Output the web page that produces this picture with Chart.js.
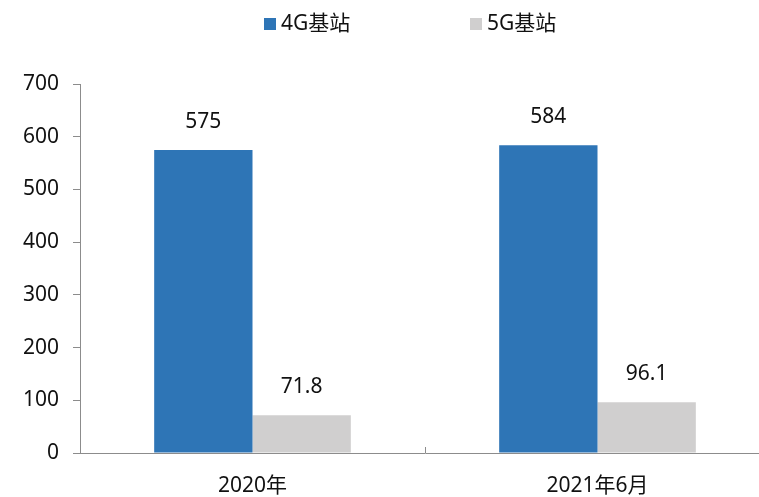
<!DOCTYPE html>
<html lang="zh">
<head>
<meta charset="UTF-8" />
<title>4G/5G基站</title>
<script src="https://cdn.jsdelivr.net/npm/chart.js"></script>
<style>
  html, body { margin: 0; padding: 0; background: #fff; overflow: hidden; }
  .wrap { width: 770px; height: 497px; }
</style>
</head>
<body>
<div class="wrap"><canvas id="baseChart"></canvas></div>
<script>
  // data
  const categories = ['2020年', '2021年6月'];
  const seriesNames = ['4G基站', '5G基站'];
  const values4G = [575, 584];
  const values5G = [71.8, 96.1];
  const yTicks = [0, 100, 200, 300, 400, 500, 600, 700];
  const seriesColors = ['#2e75b6', '#d0cfcf'];

  const FONT = '"Noto Sans", "Noto Sans CJK SC", sans-serif';
  const AXIS = '#8c8c8c';

  // value labels above each bar
  const valueLabels = {
    id: 'valueLabels',
    afterDatasetsDraw(chart) {
      const ctx = chart.ctx;
      ctx.save();
      ctx.font = '21px ' + FONT;
      ctx.fillStyle = '#111';
      ctx.textAlign = 'center';
      ctx.textBaseline = 'alphabetic';
      chart.data.datasets.forEach((ds, i) => {
        chart.getDatasetMeta(i).data.forEach((bar, j) => {
          ctx.fillText(String(ds.data[j]), bar.x, bar.y - 22);
        });
      });
      ctx.restore();
    }
  };

  // small inward tick marks on the category axis
  const xInnerTicks = {
    id: 'xInnerTicks',
    afterDraw(chart) {
      const x = chart.scales.x;
      const ctx = chart.ctx;
      ctx.save();
      ctx.strokeStyle = AXIS;
      ctx.lineWidth = 1;
      for (let i = 1; i < categories.length; i++) {
        const px = Math.round((x.getPixelForValue(i - 1) + x.getPixelForValue(i)) / 2) + 0.5;
        ctx.beginPath();
        ctx.moveTo(px, x.top);
        ctx.lineTo(px, x.top - 6);
        ctx.stroke();
      }
      ctx.restore();
    }
  };

  // legend drawn at the top, items spaced wide apart
  const topLegend = {
    id: 'topLegend',
    afterDraw(chart) {
      const ctx = chart.ctx;
      const starts = [264, 470];
      ctx.save();
      ctx.font = '21px ' + FONT;
      ctx.textBaseline = 'middle';
      ctx.textAlign = 'left';
      chart.data.datasets.forEach((ds, i) => {
        ctx.fillStyle = ds.backgroundColor;
        ctx.fillRect(starts[i], 18, 12, 12);
        ctx.fillStyle = '#111';
        ctx.fillText(ds.label, starts[i] + 17, 24);
      });
      ctx.restore();
    }
  };

  new Chart(document.getElementById('baseChart'), {
    type: 'bar',
    data: {
      labels: categories,
      datasets: [
        { label: seriesNames[0], data: values4G, backgroundColor: seriesColors[0] },
        { label: seriesNames[1], data: values5G, backgroundColor: seriesColors[1] }
      ]
    },
    options: {
      responsive: true,
      maintainAspectRatio: false,
      animation: false,
      layout: { padding: { top: 84, right: 0, bottom: 0, left: 0 } },
      datasets: { bar: { categoryPercentage: 0.57, barPercentage: 1 } },
      plugins: {
        legend: { display: false },
        tooltip: { enabled: false }
      },
      scales: {
        x: {
          grid: { display: false },
          border: { display: true, color: AXIS, width: 1 },
          ticks: { font: { family: FONT, size: 21 }, color: '#111', padding: 12 },
          afterFit: s => { s.height = 44; }
        },
        y: {
          min: 0,
          max: 700,
          afterBuildTicks: s => { s.ticks = yTicks.map(v => ({ value: v })); },
          grid: { drawOnChartArea: false, drawTicks: true, tickLength: 7, color: AXIS },
          border: { display: true, color: AXIS, width: 1 },
          ticks: { font: { family: FONT, size: 21 }, color: '#111', padding: 14 },
          afterFit: s => { s.width = 80; }
        }
      }
    },
    plugins: [valueLabels, xInnerTicks, topLegend]
  });
</script>
</body>
</html>
